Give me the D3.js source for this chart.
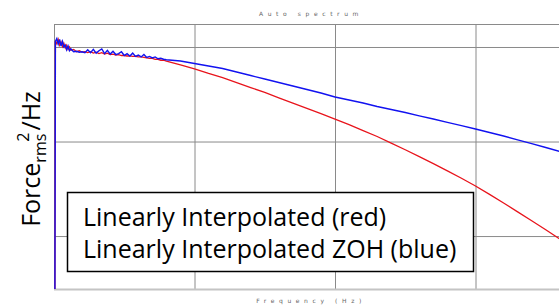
<!DOCTYPE html>
<html>
<head>
  <script src="https://cdn.jsdelivr.net/npm/d3@7"></script>
  <style>
    body { margin: 0; background: #fff; }
    svg { display: block; }
  </style>
</head>
<body>
<script>
  // frequency bins (Hz)
  const freq = [3, 5, 10, 15, 20, 25, 30, 35, 40, 45, 50, 55, 60,
    70, 80, 90, 100, 110, 120, 130, 140, 150, 160, 170, 180, 190, 200,
    210, 220, 230, 240, 250, 260, 270, 280, 290, 300, 310, 320, 330, 340,
    350, 360, 370, 380, 390, 400,
    450, 500, 550, 600, 650, 700, 750, 800, 850, 900, 950, 1000, 1050,
    1100, 1150, 1200, 1250, 1300, 1350, 1400, 1450, 1500, 1550, 1600,
    1650, 1700, 1750, 1800];

  // linearly interpolated (red), dB
  const redDb = [-40, -9.35, -9.65, -9.2, -9.8, -9.45, -9.95, -9.6, -10.1, -9.8, -10.25, -10.0, -10.35,
    -10.25, -10.5, -10.4, -10.55, -10.5, -10.6, -10.5, -10.65, -10.55, -10.7, -10.6, -10.75, -10.65, -10.8,
    -10.75, -10.85, -10.8, -10.9, -10.9, -10.95, -10.95, -11.0, -11.0, -11.05, -11.05, -11.1, -11.15, -11.2,
    -11.2, -11.3, -11.3, -11.4, -11.4, -11.5,
    -11.9, -12.31, -12.8, -13.25, -13.76, -14.29, -14.81, -15.38, -15.93, -16.49, -17.05, -17.62, -18.22,
    -18.84, -19.47, -20.16, -20.87, -21.59, -22.33, -23.1, -23.88, -24.71, -25.59, -26.51,
    -27.44, -28.38, -29.34, -30.32];

  // linearly interpolated ZOH (blue), dB
  const blueDb = [-40, -9.4, -9.1, -9.7, -9.2, -9.9, -9.4, -10.0, -9.8, -10.3, -9.9, -10.4, -10.2,
    -10.5, -10.45, -10.55, -10.5, -10.6, -10.3, -10.6, -10.25, -10.65, -10.4, -10.2, -10.7, -10.35, -10.75,
    -10.45, -10.8, -10.7, -10.5, -10.9, -10.7, -10.95, -10.65, -11.0, -10.85, -11.05, -10.8, -11.1, -11.0,
    -11.15, -11.05, -11.25, -11.2, -11.3, -11.35,
    -11.48, -11.75, -12.01, -12.28, -12.65, -13.02, -13.39, -13.76, -14.13, -14.5, -14.87, -15.29, -15.61,
    -15.93, -16.3, -16.61, -16.93, -17.28, -17.62, -17.97, -18.32, -18.68, -19.05, -19.42,
    -19.82, -20.22, -20.63, -21.06];

  const gridFreq = [500, 1000, 1500];
  const gridDb = [-10, -20, -30];
  const legendLines = ["Linearly Interpolated (red)", "Linearly Interpolated ZOH (blue)"];

  const w = 559, h = 307;
  const pLeft = 54, pTop = 24.5, pBottom = 289;

  const x = d3.scaleLinear().domain([0, 2000]).range([pLeft, 616]);
  const y = d3.scaleLinear().domain([-35.6, -7.62]).range([pBottom, pTop]);

  const svg = d3.select("body").append("svg")
    .attr("width", w)
    .attr("height", h);

  svg.append("clipPath").attr("id", "plot")
    .append("rect")
    .attr("x", pLeft).attr("y", pTop)
    .attr("width", w - pLeft).attr("height", pBottom - pTop);

  // gridlines
  svg.append("g")
    .attr("transform", "translate(0," + pBottom + ")")
    .call(d3.axisBottom(x).tickValues(gridFreq).tickSize(-(pBottom - pTop)).tickFormat(""))
    .call(g => g.select(".domain").remove())
    .call(g => g.selectAll("line").attr("stroke", "#8a8a8a"));

  svg.append("g")
    .attr("transform", "translate(" + pLeft + ",0)")
    .call(d3.axisLeft(y).tickValues(gridDb).tickSize(-(w - pLeft)).tickFormat(""))
    .call(g => g.select(".domain").remove())
    .call(g => g.selectAll("line").attr("stroke", "#8a8a8a"));

  // frame
  svg.append("line")
    .attr("x1", pLeft).attr("x2", w).attr("y1", pTop).attr("y2", pTop)
    .attr("stroke", "#8a8a8a");
  svg.append("line")
    .attr("x1", pLeft).attr("x2", w).attr("y1", pBottom + 0.5).attr("y2", pBottom + 0.5)
    .attr("stroke", "#c4c4c4").attr("stroke-width", 2);
  svg.append("line")
    .attr("x1", pLeft + 0.5).attr("x2", pLeft + 0.5).attr("y1", pTop).attr("y2", pBottom)
    .attr("stroke", "#8a8a8a");

  const plot = svg.append("g").attr("clip-path", "url(#plot)");

  const line = function (vals) {
    return d3.line()
      .x(function (d, i) { return x(freq[i]); })
      .y(function (d) { return y(d); })(vals);
  };

  plot.append("path")
    .attr("d", line(redDb))
    .attr("fill", "none")
    .attr("stroke", "#e8141c")
    .attr("stroke-width", 1.3);

  plot.append("path")
    .attr("d", line(blueDb))
    .attr("fill", "none")
    .attr("stroke", "#1212f0")
    .attr("stroke-width", 1.4);

  // titles
  svg.append("text")
    .attr("x", 311).attr("y", 16)
    .attr("text-anchor", "middle")
    .attr("font-family", "DejaVu Sans")
    .attr("font-size", 6)
    .attr("letter-spacing", 4.6)
    .attr("fill", "#666")
    .text("Auto spectrum");

  svg.append("text")
    .attr("x", 311).attr("y", 303)
    .attr("text-anchor", "middle")
    .attr("font-family", "DejaVu Sans")
    .attr("font-size", 6)
    .attr("letter-spacing", 4.6)
    .attr("fill", "#666")
    .text("Frequency (Hz)");

  // y label
  const yl = svg.append("text")
    .attr("transform", "translate(40,159) rotate(-90)")
    .attr("text-anchor", "middle")
    .attr("font-family", "Open Sans")
    .attr("font-size", 25)
    .attr("fill", "#000");
  yl.append("tspan").text("Force");
  yl.append("tspan").attr("font-size", 16).attr("dy", 6).text("rms");
  yl.append("tspan").attr("font-size", 16).attr("dy", -17).attr("dx", -8).text("2");
  yl.append("tspan").attr("dy", 11).attr("dx", 2).text("/Hz");

  // legend box
  svg.append("rect")
    .attr("x", 67.5).attr("y", 192.5)
    .attr("width", 406).attr("height", 79)
    .attr("fill", "#fff")
    .attr("stroke", "#000")
    .attr("stroke-width", 1.5);

  svg.selectAll(".leg")
    .data(legendLines)
    .enter()
    .append("text")
    .attr("class", "leg")
    .attr("x", 83)
    .attr("y", function (d, i) { return 226 + i * 31.5; })
    .attr("font-family", "Open Sans")
    .attr("font-size", 25)
    .attr("fill", "#000")
    .text(function (d) { return d; });
</script>
</body>
</html>
